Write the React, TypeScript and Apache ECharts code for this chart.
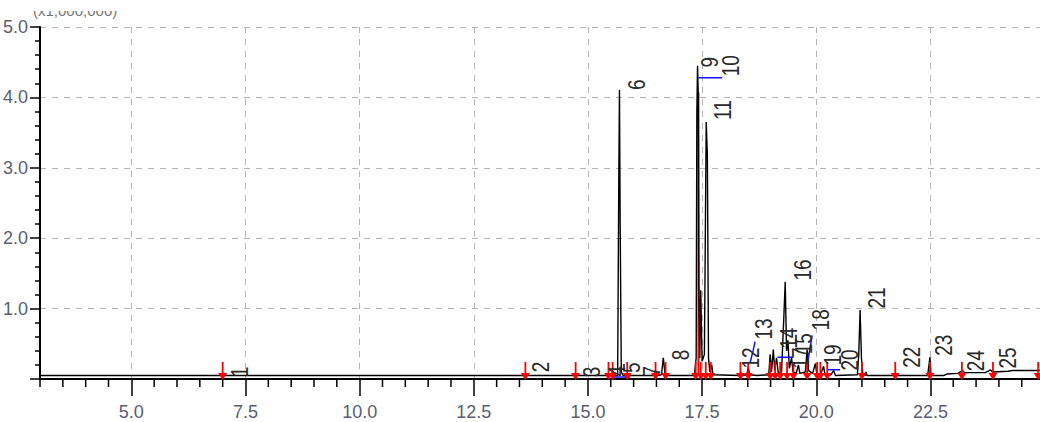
import React, { useEffect, useRef } from "react";
import * as echarts from "echarts";

// Chromatogram trace (time in min, intensity in x1,000,000)
const traceTimes = [
  3.0, 6.97, 7.0, 7.03, 13.6, 13.63, 13.66, 14.7, 14.73, 14.76,
  15.42, 15.45, 15.49, 15.53, 15.57, 15.65, 15.675, 15.69, 15.705, 15.73, 15.77,
  15.83, 15.86, 15.89, 16.45, 16.48, 16.51, 16.61, 16.65, 16.69, 16.73,
  17.33, 17.37, 17.385, 17.40, 17.415, 17.43, 17.45, 17.47, 17.50, 17.55, 17.59, 17.615, 17.64, 17.67, 17.71, 17.74,
  18.32, 18.35, 18.39, 18.48, 18.51, 18.54, 18.7,
  18.96, 18.99, 19.02, 19.06, 19.09, 19.13, 19.17, 19.24, 19.29, 19.32, 19.35, 19.38, 19.41, 19.46, 19.49,
  19.56, 19.61, 19.64, 19.76, 19.80, 19.83, 19.92, 19.98, 20.01, 20.1, 20.16, 20.19, 20.32, 20.38, 20.42,
  20.9, 20.93, 20.96, 20.99, 21.02, 21.07, 21.09, 21.11, 21.68, 21.71, 21.74,
  22.44, 22.49, 22.51, 22.55, 22.8, 22.86, 23.1, 23.2, 23.25, 23.7, 23.82, 23.86, 24.2, 24.3, 24.9,
];
const traceIntensity = [
  0.05, 0.05, 0.08, 0.05, 0.05, 0.07, 0.05, 0.05, 0.07, 0.05,
  0.05, 0.08, 0.06, 0.09, 0.05, 0.05, 2.8, 4.11, 2.26, 0.1, 0.05,
  0.05, 0.08, 0.05, 0.05, 0.12, 0.05, 0.06, 0.3, 0.06, 0.05,
  0.05, 0.3, 3.79, 4.45, 4.07, 1.3, 0.3, 1.26, 0.25, 0.35, 3.65, 3.18, 0.3, 0.1, 0.2, 0.06,
  0.05, 0.09, 0.05, 0.06, 0.17, 0.06, 0.05,
  0.06, 0.35, 0.1, 0.42, 0.12, 0.3, 0.08, 0.1, 0.88, 1.38, 0.4, 0.55, 0.15, 0.3, 0.1,
  0.08, 0.2, 0.08, 0.1, 0.42, 0.12, 0.08, 0.22, 0.08, 0.07, 0.18, 0.07, 0.06, 0.12, 0.05,
  0.06, 0.34, 0.98, 0.3, 0.06, 0.05, 0.1, 0.05, 0.05, 0.07, 0.05,
  0.05, 0.31, 0.08, 0.05, 0.05, 0.07, 0.08, 0.12, 0.09, 0.09, 0.13, 0.1, 0.11, 0.12, 0.12,
];

// Peak numbers and where their labels sit
const peakNumbers = [
  "1", "2", "3", "4", "5", "6", "7", "8", "9", "10", "11", "12", "13",
  "14", "15", "16", "17", "18", "19", "20", "21", "22", "23", "24", "25",
];
const peakLabelTimes = [
  7.38, 13.98, 15.1, 15.65, 15.97, 16.08, 16.41, 17.05, 17.68, 18.14, 17.96, 18.58, 18.86,
  19.41, 19.74, 19.71, 19.67, 20.11, 20.37, 20.74, 21.33, 22.1, 22.8, 23.5, 24.2,
];
const peakLabelLevels = [
  0.1, 0.17, 0.1, 0.11, 0.16, 4.18, 0.11, 0.34, 4.5, 4.45, 3.82, 0.3, 0.71,
  0.58, 0.5, 1.55, 0.3, 0.84, 0.34, 0.27, 1.15, 0.31, 0.48, 0.26, 0.3,
];

// Integration start/end markers (red arrows)
const markerTimes = [
  7.0, 13.63, 14.73, 15.45, 15.54, 15.86, 16.48, 16.7, 17.36, 17.47, 17.58, 17.69,
  18.34, 18.51, 18.99, 19.1, 19.21, 19.36, 19.5, 19.8, 20.02, 20.09, 20.24, 21.0,
  21.73, 22.49, 23.19, 23.87, 24.86,
];

// Blue baseline segments
const baselineSegments = [
  [[15.56, 0.03], [15.93, 0.03]],
  [[17.42, 4.28], [17.94, 4.28]],
  [[18.55, 0.23], [18.62, 0.41], [18.66, 0.53]],
  [[19.15, 0.31], [19.5, 0.31]],
  [[19.82, 0.27], [19.91, 0.62]],
  [[20.24, 0.13], [20.52, 0.13]],
];

// Red fill line of peak 9
const peakFill = [[17.42, 0.05], [17.42, 4.07]];

const xMajorTicks = [5.0, 7.5, 10.0, 12.5, 15.0, 17.5, 20.0, 22.5];
const xMinorTicks = [
  3.0, 3.5, 4.0, 4.5, 5.5, 6.0, 6.5, 7.0, 8.0, 8.5, 9.0, 9.5, 10.5, 11.0, 11.5, 12.0,
  13.0, 13.5, 14.0, 14.5, 15.5, 16.0, 16.5, 17.0, 18.0, 18.5, 19.0, 19.5, 20.5, 21.0,
  21.5, 22.0, 23.0, 23.5, 24.0, 24.5,
];

const axisFont = '"Liberation Sans Narrow", "Liberation Sans", sans-serif';
const labelFont = '"Liberation Sans", "DejaVu Sans", sans-serif';
const axisTextColor = "#5a5e70";
const gridLine = { color: "#b4b4b4", width: 1, type: [6, 6] as number[] };

export default function App() {
  const ref = useRef<HTMLDivElement>(null);

  useEffect(() => {
    if (!ref.current) return;
    const chart = echarts.init(ref.current, null, { renderer: "svg" });
    const trace = traceTimes.map((t, i) => [t, traceIntensity[i]]);
    const labelData = peakLabelTimes.map((t, i) => [t, peakLabelLevels[i]]);

    const option: any = {
      animation: false,
      backgroundColor: "#ffffff",
      grid: { left: 39, right: 0, top: 27, bottom: 43, containLabel: false },
      xAxis: [
        {
          type: "value",
          min: 3,
          max: 24.9,
          position: "bottom",
          axisLine: { show: true, onZero: false, lineStyle: { color: "#000", width: 2 } },
          axisTick: { show: true, customValues: xMajorTicks, length: 17, lineStyle: { color: "#000", width: 1.5 } },
          axisLabel: {
            customValues: xMajorTicks,
            formatter: (v: number) => v.toFixed(1),
            margin: 24,
            fontSize: 18,
            fontFamily: axisFont,
            color: axisTextColor,
          },
          splitLine: { show: true, lineStyle: gridLine },
        },
        {
          type: "value",
          min: 3,
          max: 24.9,
          position: "top",
          offset: 3,
          axisLine: { show: true, lineStyle: { color: "#000", width: 2 } },
          axisTick: { show: false },
          axisLabel: { show: false },
          splitLine: { show: false },
        },
      ],
      yAxis: {
        type: "value",
        min: 0,
        max: 5,
        interval: 1,
        axisLine: { show: true, onZero: false, lineStyle: { color: "#000", width: 2 } },
        axisTick: { show: true, length: 10, lineStyle: { color: "#000", width: 1.5 } },
        minorTick: { show: true, splitNumber: 5, length: 5, lineStyle: { color: "#000", width: 1.5 } },
        axisLabel: {
          formatter: (v: number) => (v === 0 ? "" : v.toFixed(1)),
          margin: 12,
          fontSize: 18,
          fontFamily: axisFont,
          color: axisTextColor,
        },
        splitLine: { show: true, lineStyle: gridLine },
      },
      graphic: [
        {
          type: "text",
          left: 33,
          top: 3,
          z: 99,
          style: { text: "(x1,000,000)", fontSize: 15, fill: "#777", fontFamily: axisFont },
        },
        {
          type: "rect",
          left: 0,
          top: 0,
          z: 100,
          shape: { width: 300, height: 11 },
          style: { fill: "#fff" },
        },
      ],
      series: [
        {
          type: "line",
          data: trace,
          symbol: "none",
          showSymbol: false,
          lineStyle: { color: "#000", width: 1.4 },
          z: 3,
        },
        {
          type: "lines",
          coordinateSystem: "cartesian2d",
          polyline: true,
          data: [{ coords: peakFill }],
          lineStyle: { color: "#ff0000", width: 2, opacity: 1 },
          z: 2,
        },
        {
          type: "lines",
          coordinateSystem: "cartesian2d",
          polyline: true,
          data: baselineSegments.map((c) => ({ coords: c })),
          lineStyle: { color: "#1010ff", width: 1.5, opacity: 1 },
          z: 4,
        },
        {
          type: "scatter",
          data: markerTimes.map((t) => [t, 0]),
          symbol: "path://M4,0 L6,0 L6,11 L10,11 L5,18 L0,11 L4,11 Z",
          symbolSize: [9, 18],
          symbolOffset: [0, -8],
          itemStyle: { color: "#ff0000", opacity: 1 },
          z: 5,
        },
        {
          // minor ticks of the time axis, placed through the axis scale
          type: "custom",
          data: xMinorTicks.map((t) => [t, 0]),
          clip: false,
          silent: true,
          z: 2,
          renderItem: (params: any, api: any) => {
            const p = api.coord([api.value(0), api.value(1)]);
            return {
              type: "line",
              shape: { x1: p[0], y1: p[1], x2: p[0], y2: p[1] + 8 },
              style: { stroke: "#000", lineWidth: 1.5 },
            };
          },
        },
        {
          type: "custom",
          data: labelData,
          z: 6,
          renderItem: (params: any, api: any) => {
            const p = api.coord([api.value(0), api.value(1)]);
            return {
              type: "text",
              x: p[0],
              y: p[1],
              rotation: Math.PI / 2,
              scaleY: 1.25,
              style: {
                text: peakNumbers[params.dataIndex],
                fontSize: 19,
                fontFamily: labelFont,
                fill: "#2a2a2a",
                align: "center",
                verticalAlign: "middle",
              },
            };
          },
        },
      ],
    };
    chart.setOption(option);
    return () => chart.dispose();
  }, []);

  return (
    <div
      ref={ref}
      style={{ position: "fixed", left: 0, top: 0, width: 1040, height: 422, background: "#fff" }}
    />
  );
}
